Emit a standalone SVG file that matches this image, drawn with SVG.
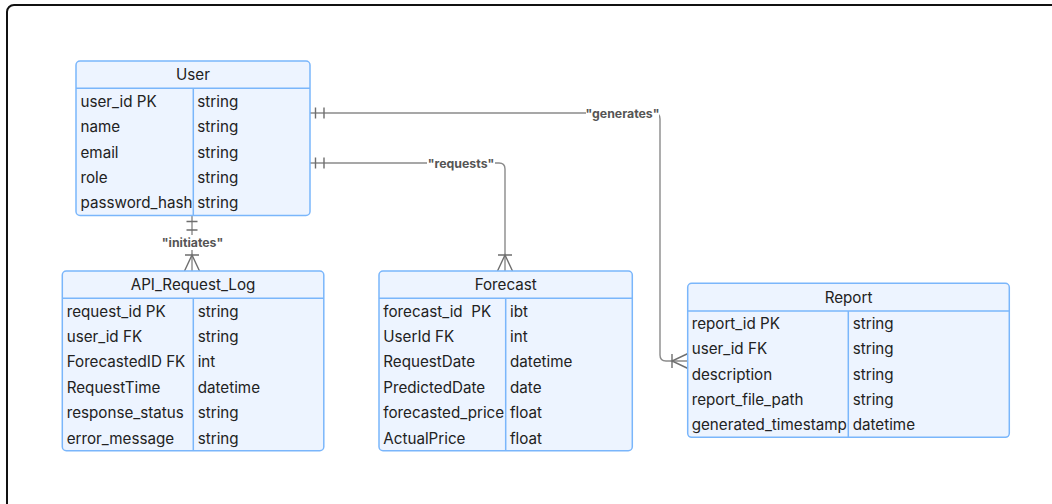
<svg xmlns="http://www.w3.org/2000/svg" xmlns:xlink="http://www.w3.org/1999/xlink" width="1052" height="504" viewBox="0 0 1052 504">
  <style>
    .frame { fill: #ffffff; stroke: #111111; stroke-width: 2; }
    .box { fill: #EDF4FF; stroke: #7AB6FB; stroke-width: 1.5; }
    .sep { stroke: #7AB6FB; stroke-width: 1.5; fill: none; }
    .t { font-family: Inter, "Liberation Sans", sans-serif; font-size: 15.2px; fill: #222222; white-space: pre; }
    .h { text-anchor: middle; }
    .edge { fill: none; stroke: #8A8A8A; stroke-width: 1.4; }
    .mk { fill: none; stroke: #6E6E6E; stroke-width: 1.4; }
    .lbl-bg { fill: #ffffff; }
    .lbl { font-family: Inter, "Liberation Sans", sans-serif; font-size: 12.3px; font-weight: bold; fill: #555555; text-anchor: middle; }
  </style>
  <defs>
    <!-- cardinality markers, drawn with +x pointing away from the entity -->
    <path id="one" class="mk" d="M5.5,-5.5 V5.5 M14,-5.5 V5.5"/>
    <path id="many" class="mk" d="M16,-7 V7 M0,-7.5 L16,0 L0,7.5"/>
  </defs>

  <rect class="frame" x="7" y="5" width="1060" height="520" rx="7"/>

  <g id="connectors">
    <!-- User generates Report -->
    <path class="edge" d="M310,113 H654 Q660,113 660,119 V355 Q660,361 666,361 H688"/>
    <!-- User requests Forecast -->
    <path class="edge" d="M310,163 H499 Q505,163 505,169 V271"/>
    <!-- User initiates API_Request_Log -->
    <path class="edge" d="M192,216 V271"/>

    <use xlink:href="#one" transform="translate(310,113)"/>
    <use xlink:href="#one" transform="translate(310,163)"/>
    <use xlink:href="#one" transform="translate(192,216) rotate(90)"/>
    <use xlink:href="#many" transform="translate(192,271) rotate(-90)"/>
    <use xlink:href="#many" transform="translate(505,271) rotate(-90)"/>
    <use xlink:href="#many" transform="translate(688,361) rotate(180)"/>

    <rect class="lbl-bg" x="586" y="105" width="73" height="16"/>
    <text class="lbl" x="622.5" y="117.5">"generates"</text>
    <rect class="lbl-bg" x="427" y="155" width="68" height="16"/>
    <text class="lbl" x="461" y="167.5">"requests"</text>
    <rect class="lbl-bg" x="161" y="235" width="63" height="15"/>
    <text class="lbl" x="192.5" y="246.5">"initiates"</text>
  </g>

  <g id="User">
    <rect class="box" x="76" y="61" width="234" height="154.5" rx="4"/>
    <path class="sep" d="M76,88.3 H310 M193.3,88.3 V215.5"/>
    <text class="t h" x="193" y="80">User</text>
    <text class="t" x="80.5" y="106.8">user_id PK</text><text class="t" x="197.3" y="106.8">string</text>
    <text class="t" x="80.5" y="132.2">name</text><text class="t" x="197.3" y="132.2">string</text>
    <text class="t" x="80.5" y="157.6">email</text><text class="t" x="197.3" y="157.6">string</text>
    <text class="t" x="80.5" y="183">role</text><text class="t" x="197.3" y="183">string</text>
    <text class="t" x="80.5" y="208.4">password_hash</text><text class="t" x="197.3" y="208.4">string</text>
  </g>

  <g id="API_Request_Log">
    <rect class="box" x="62.3" y="271" width="261.5" height="179.7" rx="4"/>
    <path class="sep" d="M62.3,298.3 H323.8 M193.3,298.3 V450.7"/>
    <text class="t h" x="193" y="290">API_Request_Log</text>
    <text class="t" x="66.7" y="316.5">request_id PK</text><text class="t" x="197.7" y="316.5">string</text>
    <text class="t" x="66.7" y="341.9">user_id FK</text><text class="t" x="197.7" y="341.9">string</text>
    <text class="t" x="66.7" y="367.3">ForecastedID FK</text><text class="t" x="197.7" y="367.3">int</text>
    <text class="t" x="66.7" y="392.7">RequestTime</text><text class="t" x="197.7" y="392.7">datetime</text>
    <text class="t" x="66.7" y="418.1">response_status</text><text class="t" x="197.7" y="418.1">string</text>
    <text class="t" x="66.7" y="443.5">error_message</text><text class="t" x="197.7" y="443.5">string</text>
  </g>

  <g id="Forecast">
    <rect class="box" x="379" y="271" width="253.3" height="179.7" rx="4"/>
    <path class="sep" d="M379,298.3 H632.3 M505.7,298.3 V450.7"/>
    <text class="t h" x="505.7" y="290">Forecast</text>
    <text class="t" x="383.3" y="316.5" xml:space="preserve">forecast_id  PK</text><text class="t" x="510" y="316.5">ibt</text>
    <text class="t" x="383.3" y="341.9">UserId FK</text><text class="t" x="510" y="341.9">int</text>
    <text class="t" x="383.3" y="367.3">RequestDate</text><text class="t" x="510" y="367.3">datetime</text>
    <text class="t" x="383.3" y="392.7">PredictedDate</text><text class="t" x="510" y="392.7">date</text>
    <text class="t" x="383.3" y="418.1">forecasted_price</text><text class="t" x="510" y="418.1">float</text>
    <text class="t" x="383.3" y="443.5">ActualPrice</text><text class="t" x="510" y="443.5">float</text>
  </g>

  <g id="Report">
    <rect class="box" x="687.7" y="283.3" width="321.6" height="154" rx="4"/>
    <path class="sep" d="M687.7,311 H1009.3 M848.3,311 V437.3"/>
    <text class="t h" x="848.5" y="302.5">Report</text>
    <text class="t" x="691.7" y="329.1">report_id PK</text><text class="t" x="852.7" y="329.1">string</text>
    <text class="t" x="691.7" y="354.4">user_id FK</text><text class="t" x="852.7" y="354.4">string</text>
    <text class="t" x="691.7" y="379.7">description</text><text class="t" x="852.7" y="379.7">string</text>
    <text class="t" x="691.7" y="404.9">report_file_path</text><text class="t" x="852.7" y="404.9">string</text>
    <text class="t" x="691.7" y="430.2">generated_timestamp</text><text class="t" x="852.7" y="430.2">datetime</text>
  </g>
</svg>
